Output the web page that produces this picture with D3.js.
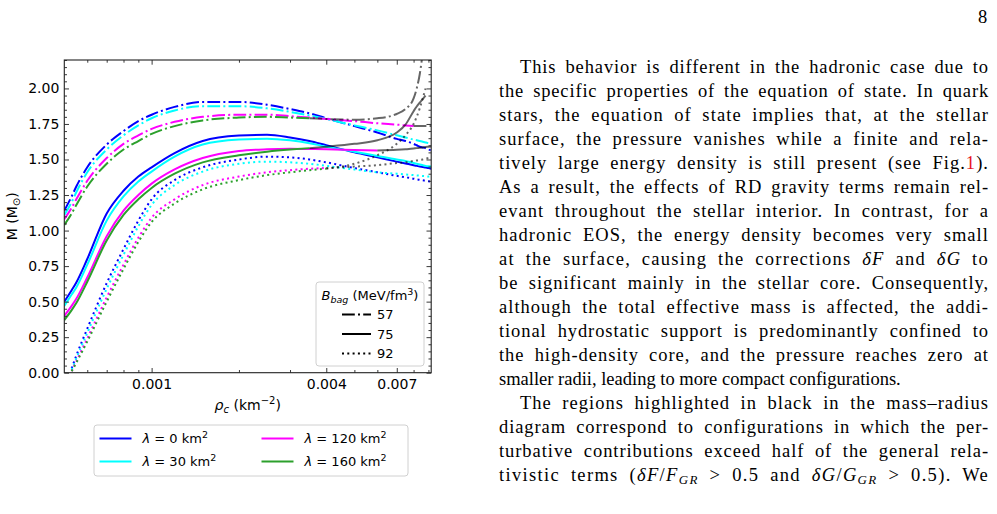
<!DOCTYPE html>
<html><head><meta charset="utf-8">
<script src="https://cdn.jsdelivr.net/npm/d3@7"></script>
<style>
body{margin:0;background:#fff;width:997px;height:514px;overflow:hidden;position:relative;}
svg{position:absolute;left:0;top:0;}
.ln{position:absolute;font-family:"Liberation Serif","DejaVu Serif",serif;font-size:18.5px;line-height:24px;white-space:nowrap;color:#000;}
.ln sub{font-size:0.7em;line-height:0;vertical-align:-0.25em;}
</style></head><body>
<svg id="chart" width="997" height="514"></svg>
<div id="page"></div>
<script>
// ---------------- DATA ----------------
const rhoGrid = [0.0005, 0.00053, 0.00055, 0.0006, 0.0007, 0.0008, 0.0009, 0.001, 0.0012, 0.0015, 0.002, 0.0025, 0.003, 0.0035, 0.004, 0.005, 0.006, 0.007, 0.0075, 0.008, 0.0082, 0.0084, 0.0086, 0.0088, 0.009, 0.0092];
const lambdaLabels = ["0", "30", "120", "160"];
const bagLabels = ["57", "75", "92"];
const xTickValues = [0.001, 0.004, 0.007];
const yTickValues = [0, 0.25, 0.5, 0.75, 1.0, 1.25, 1.5, 1.75, 2.0];

// B_bag = 57
const M_B57_L0   = [1.14, 1.24, 1.31, 1.445, 1.605, 1.70, 1.77, 1.815, 1.87, 1.905, 1.905, 1.885, 1.855, 1.825, 1.79, 1.735, 1.69, 1.645, 1.63, 1.61, 1.60, 1.59, 1.585, 1.58, 1.57, 1.565];
const M_B57_L30  = [1.11, 1.20, 1.27, 1.41, 1.57, 1.67, 1.74, 1.79, 1.845, 1.875, 1.875, 1.86, 1.835, 1.81, 1.785, 1.74, 1.705, 1.67, 1.655, 1.64, 1.635, 1.63, 1.625, 1.62, 1.615, 1.61];
const M_B57_L120 = [1.08, 1.16, 1.22, 1.35, 1.51, 1.61, 1.67, 1.715, 1.765, 1.80, 1.815, 1.815, 1.805, 1.795, 1.785, 1.77, 1.755, 1.745, 1.74, 1.735, 1.735, 1.735, 1.735, 1.735, 1.735, 1.735];
const M_B57_L160 = [1.04, 1.12, 1.18, 1.31, 1.47, 1.57, 1.63, 1.68, 1.735, 1.775, 1.795, 1.80, 1.795, 1.79, 1.785, 1.78, 1.79, 1.82, 1.855, 1.93, 2.0, 2.1, 2.25, null, null, null];
// B_bag = 75
const M_B75_L0   = [0.50, 0.58, 0.635, 0.80, 1.12, 1.28, 1.38, 1.445, 1.545, 1.63, 1.668, 1.674, 1.655, 1.63, 1.60, 1.55, 1.515, 1.485, 1.472, 1.46, 1.455, 1.45, 1.447, 1.443, 1.44, 1.435];
const M_B75_L30  = [0.47, 0.55, 0.60, 0.76, 1.07, 1.24, 1.345, 1.415, 1.52, 1.605, 1.64, 1.646, 1.635, 1.615, 1.59, 1.555, 1.525, 1.50, 1.49, 1.475, 1.47, 1.465, 1.46, 1.455, 1.452, 1.45];
const M_B75_L120 = [0.40, 0.47, 0.52, 0.67, 0.96, 1.14, 1.25, 1.33, 1.43, 1.51, 1.56, 1.572, 1.575, 1.574, 1.572, 1.567, 1.563, 1.568, 1.572, 1.577, 1.58, 1.582, 1.585, 1.588, 1.59, 1.592];
const M_B75_L160 = [0.37, 0.44, 0.49, 0.64, 0.93, 1.11, 1.22, 1.30, 1.40, 1.48, 1.53, 1.555, 1.57, 1.58, 1.59, 1.61, 1.635, 1.69, 1.745, 1.84, 1.873, 1.90, 1.925, 1.95, null, null];
// B_bag = 92
const M_B92_L0   = [null, 0.03, 0.12, 0.31, 0.63, 0.87, 1.07, 1.22, 1.355, 1.445, 1.50, 1.52, 1.515, 1.50, 1.48, 1.44, 1.41, 1.385, 1.375, 1.365, 1.36, 1.357, 1.354, 1.35, 1.347, 1.345];
const M_B92_L30  = [null, 0.02, 0.10, 0.28, 0.59, 0.83, 1.03, 1.18, 1.32, 1.415, 1.47, 1.485, 1.48, 1.47, 1.455, 1.43, 1.41, 1.40, 1.395, 1.39, 1.388, 1.386, 1.384, 1.382, 1.38, 1.378];
const M_B92_L120 = [null, 0.01, 0.08, 0.24, 0.53, 0.76, 0.95, 1.09, 1.22, 1.32, 1.38, 1.41, 1.425, 1.435, 1.44, 1.45, 1.46, 1.475, 1.48, 1.49, 1.493, 1.497, 1.50, 1.505, 1.51, 1.512];
const M_B92_L160 = [null, 0.01, 0.07, 0.22, 0.50, 0.73, 0.92, 1.06, 1.19, 1.29, 1.355, 1.39, 1.41, 1.425, 1.435, 1.47, 1.53, 1.61, 1.67, 1.75, 1.80, 1.86, 1.93, 2.0, null, null];

// rho_c where the curve enters the black-highlighted region (null = none)
const blackStart_B57 = [null, null, 0.008, 0.0035];
const blackStart_B75 = [null, null, 0.006, 0.0035];
const blackStart_B92 = [null, null, 0.004, 0.004];

const massByBag = {
  "57": [M_B57_L0, M_B57_L30, M_B57_L120, M_B57_L160],
  "75": [M_B75_L0, M_B75_L30, M_B75_L120, M_B75_L160],
  "92": [M_B92_L0, M_B92_L30, M_B92_L120, M_B92_L160]
};
const blackByBag = {"57": blackStart_B57, "75": blackStart_B75, "92": blackStart_B92};

// ---------------- STYLE ----------------
const colors = ["#0000ff", "#00ffff", "#ff00ff", "#2ca02c"];
const dashes = {"57": "12.8,3.2,2,3.2", "75": null, "92": "2,3.3"};

const svg = d3.select("#chart");
const L = 64.3, R = 431.2, T = 60, B = 372.7;
const x = d3.scaleLog().domain([0.0005, 0.0092]).range([L, R]);
const y = d3.scaleLinear().domain([0, 2.2]).range([B, T]);

svg.append("defs").append("clipPath").attr("id", "clip")
  .append("rect").attr("x", L).attr("y", T).attr("width", R - L).attr("height", B - T);

const line = d3.line().x(d => x(d[0])).y(d => y(d[1])).curve(d3.curveMonotoneX);
const gLines = svg.append("g").attr("clip-path", "url(#clip)");

bagLabels.forEach(b => {
  massByBag[b].forEach((arr, i) => {
    const pts = rhoGrid.map((r, k) => [r, arr[k]]).filter(p => p[1] != null);
    const bs = blackByBag[b][i];
    const normal = bs == null ? pts : pts.filter(p => p[0] <= bs + 1e-12);
    const black = bs == null ? [] : pts.filter(p => p[0] >= bs - 1e-12);
    gLines.append("path").attr("d", line(normal)).attr("fill", "none")
      .attr("stroke", colors[i]).attr("stroke-width", 2)
      .attr("stroke-dasharray", dashes[b]);
    if (black.length > 1) {
      gLines.append("path").attr("d", line(black)).attr("fill", "none")
        .attr("stroke", "#000").attr("stroke-opacity", 0.6).attr("stroke-width", 2)
        .attr("stroke-dasharray", dashes[b]);
    }
  });
});

// ---------------- AXES ----------------
const axisColor = "#222";
const minorX = [];
[0.0001, 0.001].forEach(dec => { for (let k = 1; k <= 9; k++) { const v = +(dec * k).toPrecision(3); if (v > 0.0005 && v < 0.0092 && !xTickValues.includes(v)) minorX.push(v); } });
const minorY = d3.range(0, 2.2001, 0.05).map(v => +v.toFixed(2)).filter(v => !yTickValues.includes(v));

function styleAxis(g) {
  g.select(".domain").remove();
  g.selectAll("line").attr("stroke", axisColor).attr("stroke-width", 0.9);
  g.selectAll("text").attr("fill", "#000").style("font-family", "'DejaVu Sans', sans-serif").style("font-size", "14px");
}
svg.append("g").attr("transform", `translate(0,${B})`)
  .call(d3.axisBottom(x).tickValues(xTickValues).tickFormat(d3.format(".3f")).tickSize(-4.7).tickPadding(6)).call(styleAxis);
svg.append("g").attr("transform", `translate(0,${B})`)
  .call(d3.axisBottom(x).tickValues(minorX).tickFormat("").tickSize(-2.7)).call(styleAxis);
svg.append("g").attr("transform", `translate(0,${T})`)
  .call(d3.axisTop(x).tickValues(xTickValues).tickFormat("").tickSize(-4.7)).call(styleAxis);
svg.append("g").attr("transform", `translate(0,${T})`)
  .call(d3.axisTop(x).tickValues(minorX).tickFormat("").tickSize(-2.7)).call(styleAxis);
svg.append("g").attr("transform", `translate(${L},0)`)
  .call(d3.axisLeft(y).tickValues(yTickValues).tickFormat(d3.format(".2f")).tickSize(-4.7).tickPadding(5)).call(styleAxis);
svg.append("g").attr("transform", `translate(${L},0)`)
  .call(d3.axisLeft(y).tickValues(minorY).tickFormat("").tickSize(-2.7)).call(styleAxis);
svg.append("g").attr("transform", `translate(${R},0)`)
  .call(d3.axisRight(y).tickValues(yTickValues).tickFormat("").tickSize(-4.7)).call(styleAxis);
svg.append("g").attr("transform", `translate(${R},0)`)
  .call(d3.axisRight(y).tickValues(minorY).tickFormat("").tickSize(-2.7)).call(styleAxis);

svg.append("rect").attr("x", L).attr("y", T).attr("width", R - L).attr("height", B - T)
  .attr("fill", "none").attr("stroke", axisColor).attr("stroke-width", 1.1);

const font = "'DejaVu Sans', sans-serif";
const xl = svg.append("text").attr("x", (L + R) / 2).attr("y", 410).attr("text-anchor", "middle")
  .style("font-family", font).style("font-size", "14px");
xl.append("tspan").attr("font-style", "italic").text("ρ");
xl.append("tspan").attr("font-style", "italic").attr("font-size", "10px").attr("dy", 3).text("c");
xl.append("tspan").attr("dy", -3).text(" (km");
xl.append("tspan").attr("font-size", "10px").attr("dy", -6).text("−2");
xl.append("tspan").attr("dy", 6).text(")");

const yl = svg.append("text").attr("transform", `translate(17,${(T + B) / 2}) rotate(-90)`).attr("text-anchor", "middle")
  .style("font-family", font).style("font-size", "14px");
yl.append("tspan").text("M (M");
yl.append("tspan").attr("font-size", "10px").attr("dy", 3).text("⊙");
yl.append("tspan").attr("dy", -3).text(")");

// inner legend (B_bag)
const lg = svg.append("g");
lg.append("rect").attr("x", 316).attr("y", 282).attr("width", 108).attr("height", 84).attr("rx", 3)
  .attr("fill", "#fff").attr("fill-opacity", 0.8).attr("stroke", "#d0d0d0").attr("stroke-width", 1);
const lt = lg.append("text").attr("x", 370).attr("y", 300).attr("text-anchor", "middle")
  .style("font-family", font).style("font-size", "13px");
lt.append("tspan").attr("font-style", "italic").text("B");
lt.append("tspan").attr("font-style", "italic").attr("font-size", "9.5px").attr("dy", 3).text("bag");
lt.append("tspan").attr("dy", -3).text(" (MeV/fm");
lt.append("tspan").attr("font-size", "9.5px").attr("dy", -5).text("3");
lt.append("tspan").attr("dy", 5).text(")");
bagLabels.forEach((b, i) => {
  const yy = 314.5 + i * 19.5;
  lg.append("line").attr("x1", 342).attr("x2", 371).attr("y1", yy).attr("y2", yy)
    .attr("stroke", "#000").attr("stroke-width", 2).attr("stroke-dasharray", dashes[b]);
  lg.append("text").attr("x", 377).attr("y", yy + 4.7).style("font-family", font).style("font-size", "13px").text(b);
});

// bottom legend (lambda)
const bl = svg.append("g");
bl.append("rect").attr("x", 94).attr("y", 425).attr("width", 314).attr("height", 51).attr("rx", 3)
  .attr("fill", "#fff").attr("stroke", "#d0d0d0").attr("stroke-width", 1);
lambdaLabels.forEach((lab, i) => {
  const col = Math.floor(i / 2), row = i % 2;
  const x0 = col === 0 ? 99.5 : 261.5;
  const yy = 438.5 + row * 23;
  bl.append("line").attr("x1", x0).attr("x2", x0 + 32).attr("y1", yy).attr("y2", yy)
    .attr("stroke", colors[i]).attr("stroke-width", 2);
  const t = bl.append("text").attr("x", x0 + 43).attr("y", yy + 4.7).style("font-family", font).style("font-size", "13px");
  t.append("tspan").attr("font-style", "italic").text("λ");
  t.append("tspan").text(" = " + lab + " km");
  t.append("tspan").attr("font-size", "9.5px").attr("dy", -5).text("2");
});

// ---------------- PAGE TEXT ----------------
const pageLines = [
  {h: "This behavior is different in the hadronic case due to", indent: true},
  {h: "the specific properties of the equation of state. In quark"},
  {h: "stars, the equation of state implies that, at the stellar"},
  {h: "surface, the pressure vanishes while a finite and rela-"},
  {h: 'tively large energy density is still present (see Fig.<span style="color:#e8131b">1</span>).'},
  {h: "As a result, the effects of RD gravity terms remain rel-"},
  {h: "evant throughout the stellar interior. In contrast, for a"},
  {h: "hadronic EOS, the energy density becomes very small"},
  {h: "at the surface, causing the corrections <i>δF</i> and <i>δG</i> to"},
  {h: "be significant mainly in the stellar core. Consequently,"},
  {h: "although the total effective mass is affected, the addi-"},
  {h: "tional hydrostatic support is predominantly confined to"},
  {h: "the high-density core, and the pressure reaches zero at"},
  {h: "smaller radii, leading to more compact configurations.", last: true},
  {h: "The regions highlighted in black in the mass–radius", indent: true},
  {h: "diagram correspond to configurations in which the per-"},
  {h: "turbative contributions exceed half of the general rela-"},
  {h: "tivistic terms (<i>δF</i>/<i>F<sub>GR</sub></i> &gt; 0.5 and <i>δG</i>/<i>G<sub>GR</sub></i> &gt; 0.5). We"}
];
const page = d3.select("#page");
page.append("div").attr("class", "ln").style("left", "978px").style("top", "5px").text("8");
const lineDivs = pageLines.map((d, i) => {
  const left = d.indent ? 520 : 499;
  const div = page.append("div").attr("class", "ln")
    .style("left", left + "px").style("top", (55 + i * 24) + "px")
    .html(d.h);
  return {div, d, target: 989 - left};
});
function justifyLines() {
  lineDivs.forEach(({div, d, target}) => {
    div.style("letter-spacing", "0px").style("word-spacing", "0px");
    if (d.last) return;
    const w = div.node().getBoundingClientRect().width;
    const txt = div.node().textContent;
    const n = txt.length;
    const spaces = (txt.match(/ /g) || []).length;
    const extra = target - w;
    if (extra <= 0) return;
    const ls = 0.6 * extra / n;
    const ws = (extra - ls * n) / Math.max(1, spaces);
    div.style("letter-spacing", ls + "px").style("word-spacing", ws + "px");
  });
}
justifyLines();
if (document.fonts && document.fonts.ready) document.fonts.ready.then(justifyLines);
</script>
</body></html>
